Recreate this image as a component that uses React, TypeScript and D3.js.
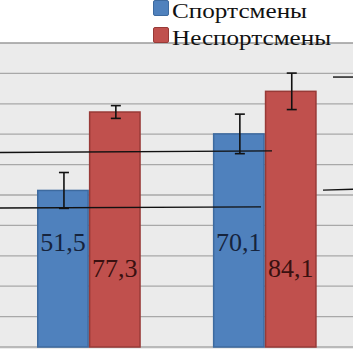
import { useEffect, useRef } from 'react';
import * as d3 from 'd3';

const categories = ['group1', 'group2'];
const seriesNames = ['Спортсмены', 'Неспортсмены'];
const athletes = [51.5, 70.1];
const nonAthletes = [77.3, 84.1];
const athletesErr = [5.9, 6.5];
const nonAthletesErr = [2.1, 6.0];
const labelText = [
  ['51,5', '70,1'],
  ['77,3', '84,1'],
];
const gridTicks = [0, 10, 20, 30, 40, 50, 60, 70, 80, 90, 100];

// hand-drawn bracket lines, y in chart units
const bracketLines = [
  { x1: 0, x2: 272, v1: 64.0, v2: 64.5 },
  { x1: 0, x2: 261, v1: 45.7, v2: 46.1 },
  { x1: 333, x2: 353, v1: 88.8, v2: 88.8 },
  { x1: 323, x2: 353, v1: 51.6, v2: 51.9 },
];

const serif = '"Liberation Serif", "Times New Roman", serif';

export default function App() {
  const svgRef = useRef<SVGSVGElement>(null);

  useEffect(() => {
    if (!svgRef.current) return;
    const width = 353;
    const height = 349;
    const svg = d3.select(svgRef.current).attr('width', width).attr('height', height);
    svg.selectAll('*').remove();

    const plotTop = 43;
    const y = d3.scaleLinear().domain([0, 100]).range([347, plotTop]);
    const x0 = d3.scaleBand().domain(categories).range([37, 316.7]).paddingInner(0.41).paddingOuter(0);
    const x1 = d3.scaleBand().domain(seriesNames).range([0, x0.bandwidth()]);

    const fills = ['#4f81bd', '#c0504d'];
    const strokes = ['#3d6a9f', '#983a37'];
    const labelColors = ['#16243d', '#3a1010'];
    const labelBaseline = [251, 277];
    const values = [athletes, nonAthletes];
    const errs = [athletesErr, nonAthletesErr];

    // plot background
    svg.append('rect').attr('x', 0).attr('y', plotTop).attr('width', width).attr('height', height - plotTop).attr('fill', '#ebebeb');

    svg
      .append('g')
      .selectAll('line')
      .data(gridTicks)
      .enter()
      .append('line')
      .attr('x1', 0)
      .attr('x2', width)
      .attr('y1', (d) => y(d))
      .attr('y2', (d) => y(d))
      .attr('stroke', (d) => (d === 100 ? '#9a9a9a' : '#a8a8a8'))
      .attr('stroke-width', (d) => (d === 100 ? 1.6 : 1.3));

    // bars
    seriesNames.forEach((s, si) => {
      const g = svg.append('g');
      g.selectAll('rect')
        .data(values[si])
        .enter()
        .append('rect')
        .attr('x', (_d, i) => (x0(categories[i]) || 0) + (x1(s) || 0) + 0.75)
        .attr('y', (d) => y(d))
        .attr('width', x1.bandwidth() - 1.5)
        .attr('height', (d) => y(0) - y(d))
        .attr('fill', fills[si])
        .attr('stroke', strokes[si])
        .attr('stroke-width', 1.5);
    });

    // bracket lines
    svg
      .append('g')
      .selectAll('line')
      .data(bracketLines)
      .enter()
      .append('line')
      .attr('x1', (d) => d.x1)
      .attr('x2', (d) => d.x2)
      .attr('y1', (d) => y(d.v1))
      .attr('y2', (d) => y(d.v2))
      .attr('stroke', '#111')
      .attr('stroke-width', 1.4);

    // error bars
    seriesNames.forEach((s, si) => {
      values[si].forEach((v, i) => {
        const cx = (x0(categories[i]) || 0) + (x1(s) || 0) + x1.bandwidth() / 2 + 1;
        const e = errs[si][i];
        const g = svg.append('g').attr('stroke', '#111').attr('stroke-width', 1.6);
        g.append('line').attr('x1', cx).attr('x2', cx).attr('y1', y(v + e)).attr('y2', y(v - e));
        g.append('line').attr('x1', cx - 5).attr('x2', cx + 5).attr('y1', y(v + e)).attr('y2', y(v + e));
        g.append('line').attr('x1', cx - 5).attr('x2', cx + 5).attr('y1', y(v - e)).attr('y2', y(v - e));
      });
    });

    // value labels
    seriesNames.forEach((s, si) => {
      svg
        .append('g')
        .selectAll('text')
        .data(values[si])
        .enter()
        .append('text')
        .attr('x', (_d, i) => (x0(categories[i]) || 0) + (x1(s) || 0) + x1.bandwidth() / 2)
        .attr('y', labelBaseline[si])
        .attr('text-anchor', 'middle')
        .style('font-family', serif)
        .attr('font-size', '26px')
        .attr('fill', labelColors[si])
        .text((_d, i) => labelText[si][i]);
    });

    // legend
    const legend = svg.append('g');
    const legendWidths = [135, 159];
    seriesNames.forEach((s, si) => {
      const ly = si * 27;
      legend
        .append('rect')
        .attr('x', 153.5)
        .attr('y', ly + 0.5)
        .attr('width', 15)
        .attr('height', 15)
        .attr('rx', 1.5)
        .attr('fill', fills[si])
        .attr('stroke', strokes[si])
        .attr('stroke-width', 1);
      legend
        .append('text')
        .attr('x', 172)
        .attr('y', ly + 17.5)
        .style('font-family', serif)
        .attr('font-size', '22px')
        .attr('fill', '#111')
        .attr('textLength', legendWidths[si])
        .attr('lengthAdjust', 'spacingAndGlyphs')
        .text(s);
    });
  }, []);

  return (
    <div style={{ position: 'absolute', left: 0, top: 0, width: 353, height: 349, background: '#fff' }}>
      <svg ref={svgRef} style={{ display: 'block' }} />
    </div>
  );
}
